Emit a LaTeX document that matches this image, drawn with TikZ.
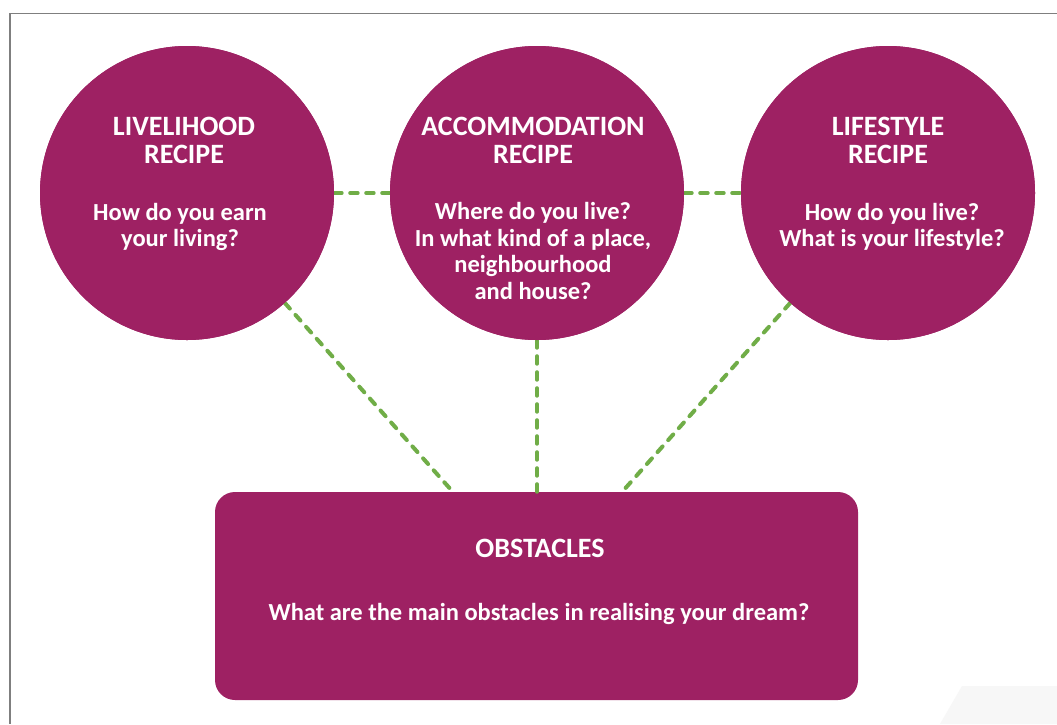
\documentclass[tikz,border=0pt]{standalone}
\usepackage{fontspec}
\setmainfont{Carlito}
\definecolor{berry}{HTML}{9E2163}
\definecolor{dashgreen}{HTML}{70AD47}
\definecolor{frame}{HTML}{7F7F7F}
\begin{document}
\begin{tikzpicture}[x=1pt,y=-1pt,
  bubble/.style={circle,fill=berry,minimum size=294pt,inner sep=0pt},
  panel/.style={rectangle,fill=berry,rounded corners=20pt,minimum width=643pt,minimum height=208pt,inner sep=0pt},
  ttl/.style={text=white,font=\bfseries\fontsize{28}{28}\selectfont,align=center,anchor=base,inner sep=0pt},
  qst/.style={text=white,font=\bfseries\fontsize{24.5}{26.5}\selectfont,align=center,anchor=base,inner sep=0pt},
  link/.style={draw=dashgreen,line width=4pt,line cap=round,dash pattern=on 7.5pt off 8.5pt}]
\useasboundingbox (0,0) rectangle (1057,724);
\fill[white] (0,0) rectangle (1057,724);
\fill[black!3] (940,724) -- (962,686) -- (1057,686) -- (1057,724) -- cycle;
\draw[frame,line width=1.5pt] (1057,13.5) -- (10,13.5) -- (10,724);
% nodes
\node[panel] (ob) at (536.5,596) {};
\node[bubble] (c1) at (187,193) {};
\node[bubble] (c2) at (537,193) {};
\node[bubble] (c3) at (888,193) {};
\coordinate (pl) at (453,492);
\coordinate (pm) at (537,492);
\coordinate (pr) at (622,492);
% connectors
\path[link] (c1) -- (c2);
\path[link] (c2) -- (c3);
\path[link] (c1) -- (pl);
\path[link] (c2) -- (pm);
\path[link] (c3) -- (pr);
% redraw circles on top
\node[bubble] (c1b) at (c1) {};
\node[bubble] (c2b) at (c2) {};
\node[bubble] (c3b) at (c3) {};
% texts (base = baseline of last line)
\node[ttl] (t1) at (184,163) {LIVELIHOOD\\RECIPE};
\node[qst] (q1) at (180,246.5) {How do you earn\\your living?};
\node[ttl] (t2) at (533,163) {ACCOMMODATION\\RECIPE};
\node[qst] (q2) at (533,299) {Where do you live?\\In what kind of a place,\\neighbourhood\\and house?};
\node[ttl] (t3) at (888,163) {LIFESTYLE\\RECIPE};
\node[qst] (q3) at (892,246.5) {How do you live?\\What is your lifestyle?};
\node[ttl] (t4) at (540,557) {OBSTACLES};
\node[qst] (q4) at (539,620) {What are the main obstacles in realising your dream?};
\end{tikzpicture}
\end{document}
